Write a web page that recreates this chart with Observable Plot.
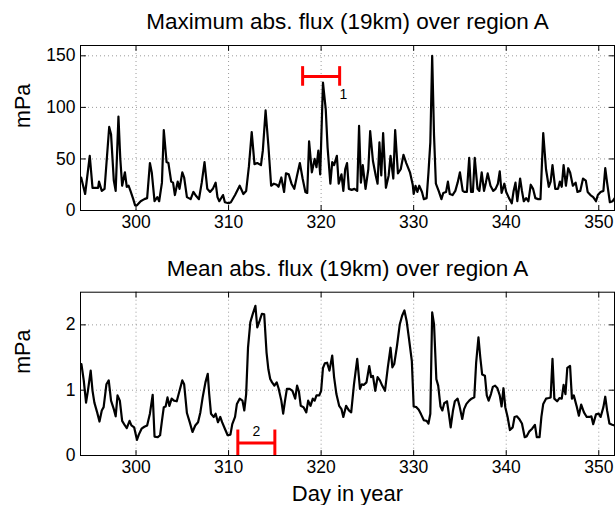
<!DOCTYPE html>
<html><head><meta charset="utf-8">
<script src="https://cdn.jsdelivr.net/npm/d3@7"></script>
<script src="https://cdn.jsdelivr.net/npm/@observablehq/plot@0.6"></script>
<style>
body{margin:0;background:#fff;}
#chart{position:relative;width:615px;height:505px;overflow:hidden;background:#fff;}
#chart svg{display:block;}
</style></head><body><div id="chart"></div>
<script>
// ---- data ----
const xTicks = [300, 310, 320, 330, 340, 350];
const maxTicks = [0, 50, 100, 150];
const meanTicks = [0, 1, 2];
const titleTop = "Maximum abs. flux (19km) over region A";
const titleBottom = "Mean abs. flux (19km) over region A";
const yLabel = "mPa";
const xLabel = "Day in year";

const maxDay = [294.07,294.5,295.0,295.3,295.6,295.9,296.0,296.3,296.6,297.1,297.3,297.6,297.8,298.1,298.3,298.5,298.8,299.0,299.2,299.4,299.7,299.9,300.1,300.5,300.9,301.2,301.5,301.7,302.0,302.3,302.5,302.8,303.0,303.3,303.5,303.8,304.0,304.2,304.5,304.7,305.0,305.2,305.5,305.9,306.2,306.5,306.8,307.1,307.4,307.7,308.0,308.3,308.6,308.8,309.0,309.4,309.6,310.0,310.25,310.7,311.2,311.6,311.9,312.2,312.5,312.8,313.1,313.5,313.7,314.0,314.3,314.6,314.9,315.2,315.4,315.7,316.0,316.2,316.5,316.8,317.1,317.4,317.7,318.0,318.3,318.5,318.7,319.0,319.3,319.5,319.7,319.9,320.2,320.5,320.7,321.0,321.2,321.4,321.7,321.9,322.2,322.4,322.6,322.8,323.0,323.3,323.6,323.9,324.1,324.3,324.5,324.8,325.1,325.3,325.6,325.9,326.1,326.3,326.5,326.7,327.0,327.3,327.5,327.8,328.0,328.3,328.6,328.9,329.2,329.6,329.9,330.0,330.2,330.4,330.6,330.9,331.1,331.4,331.6,331.8,332.0,332.2,332.4,332.7,333.0,333.2,333.5,333.7,333.9,334.2,334.5,334.75,335.0,335.3,335.5,335.75,336.0,336.2,336.4,336.6,336.9,337.1,337.35,337.6,337.8,338.0,338.3,338.6,338.85,339.1,339.3,339.5,339.8,340.0,340.3,340.6,340.8,341.0,341.2,341.5,341.7,341.9,342.15,342.4,342.65,342.9,343.15,343.45,343.7,344.0,344.3,344.6,344.8,345.0,345.3,345.6,345.8,346.0,346.2,346.45,346.7,346.9,347.2,347.5,347.7,348.0,348.3,348.6,348.8,349.1,349.4,349.7,349.9,350.2,350.5,350.7,350.9,351.2,351.5,351.8];
const maxVal = [32,16,53,22,22,22,28,19,21,81,74,29,19,91,50,24,37,23,24,19,11,5,5,9,11,12,46,37,9,13,9,27,78,47,46,28,27,15,28,21,37,32,13,11,18,14,11,27,47,21,18,21,27,13,9,15,8,7,8,15,24,16,19,43,76,45,46,44,58,97,63,24,26,25,23,32,18,36,35,26,21,34,46,31,18,17,67,37,50,42,58,35,124,98,61,26,47,44,53,26,35,19,40,46,21,20,21,19,82,27,44,21,40,77,48,34,26,66,34,75,22,34,53,31,78,36,40,54,46,37,25,16,24,18,24,18,11,12,37,66,150,73,26,19,11,17,18,28,16,15,19,27,37,19,18,18,51,18,18,51,21,19,37,19,27,36,24,19,21,26,38,17,26,18,12,7,19,27,9,31,19,9,12,9,25,21,12,11,11,75,40,23,28,44,21,21,28,23,44,24,41,37,24,27,18,19,31,29,18,15,13,9,15,18,19,41,27,8,9,13];

const meanDay = [294.1,294.35,294.6,294.8,295.1,295.3,295.5,295.8,296.05,296.3,296.5,296.8,297.05,297.3,297.6,297.8,298.0,298.25,298.5,298.8,299.0,299.3,299.5,299.8,300.1,300.3,300.6,300.9,301.2,301.5,301.8,302.0,302.35,302.6,302.8,303.0,303.2,303.4,303.6,303.85,304.1,304.4,304.7,305.0,305.2,305.5,305.8,306.1,306.4,306.7,306.95,307.2,307.5,307.75,307.9,308.1,308.4,308.6,308.85,309.1,309.3,309.6,309.9,310.2,310.4,310.7,310.9,311.2,311.5,311.7,311.9,312.1,312.35,312.6,312.9,313.1,313.35,313.6,313.85,314.1,314.3,314.5,314.7,314.95,315.2,315.4,315.7,315.9,316.1,316.3,316.6,316.9,317.2,317.4,317.6,317.8,318.1,318.4,318.6,318.85,319.1,319.3,319.5,319.8,320.0,320.2,320.4,320.65,320.9,321.2,321.4,321.65,321.95,322.2,322.4,322.7,323.0,323.25,323.55,323.9,324.2,324.4,324.6,324.9,325.2,325.4,325.6,325.85,326.1,326.35,326.6,326.9,327.2,327.5,327.7,327.9,328.2,328.5,328.75,329.0,329.25,329.5,329.8,330.0,330.3,330.55,330.8,331.1,331.4,331.6,331.8,332.0,332.2,332.45,332.65,332.9,333.1,333.3,333.6,333.8,334.0,334.25,334.45,334.75,334.95,335.25,335.45,335.7,336.0,336.25,336.55,336.75,337.0,337.2,337.4,337.7,337.9,338.1,338.35,338.55,338.8,339.05,339.3,339.5,339.7,339.9,340.15,340.4,340.7,340.9,341.15,341.4,341.7,342.0,342.2,342.5,342.8,343.1,343.3,343.6,343.8,344.0,344.3,344.6,344.8,345.0,345.2,345.5,345.75,346.0,346.2,346.4,346.6,346.9,347.1,347.3,347.6,347.85,348.1,348.4,348.7,349.0,349.2,349.4,349.7,350.0,350.2,350.5,350.7,350.9,351.15,351.45,351.7];
const meanVal = [1.40,1.15,0.81,0.99,1.30,0.99,0.81,0.66,0.52,0.69,0.74,1.09,1.15,0.84,0.71,0.60,0.92,0.84,0.53,0.46,0.42,0.53,0.46,0.43,0.24,0.32,0.41,0.44,0.46,0.64,0.93,0.29,0.28,0.31,0.53,0.74,0.75,0.89,0.76,0.87,0.84,0.83,0.99,1.15,1.09,0.65,0.51,0.36,0.46,0.51,0.66,0.89,1.12,1.25,0.95,0.64,0.59,0.64,0.51,0.59,0.51,0.41,0.31,0.32,0.48,0.59,0.79,0.87,0.84,0.69,0.94,1.65,2.04,2.16,2.29,1.96,2.06,2.17,2.16,1.58,1.32,1.17,1.12,1.07,1.12,1.03,0.84,0.64,0.84,1.02,1.02,0.99,0.87,1.07,0.98,0.76,0.74,0.66,0.84,0.76,0.87,0.84,0.92,0.92,0.99,1.34,1.41,1.42,1.30,1.53,1.20,0.94,0.76,0.71,0.59,0.76,0.69,0.66,1.09,1.48,1.02,1.09,1.08,1.12,1.37,1.20,1.22,0.99,1.20,1.15,1.07,0.99,1.34,1.65,1.35,1.40,1.68,2.01,2.14,2.22,2.05,1.78,1.45,0.75,0.74,0.70,0.63,0.54,0.53,0.49,0.64,2.19,2.01,1.17,1.07,0.75,0.69,0.80,0.83,0.64,0.43,0.69,0.83,0.87,0.76,0.56,0.71,0.79,0.84,0.87,0.89,1.42,1.81,1.50,1.24,1.22,0.92,0.84,0.94,1.05,1.07,1.03,0.92,0.75,1.03,0.74,0.59,0.39,0.43,0.59,0.60,0.56,0.49,0.28,0.29,0.37,0.41,0.47,0.28,0.28,0.59,0.79,0.87,0.88,0.89,1.48,0.87,0.83,0.88,0.87,1.08,0.94,1.34,1.37,0.87,0.92,0.76,0.61,0.78,0.66,0.59,0.59,0.60,0.48,0.63,0.64,0.59,0.74,0.90,0.69,0.49,0.47,0.46];

// interval markers: start day, end day, level, cap low, cap high, label, label position
const markerTop = {start: 318, end: 322, level: 130, capLo: 120.5, capHi: 139.5, label: "1", lx: 322.4, ly: 112};
const markerBottom = {start: 311, end: 315, level: 0.19, capLo: 0, capHi: 0.39, label: "2", lx: 313, ly: 0.36};

const xDomain = [294, 351.7];
const FONT = "'Liberation Sans', Arial, Helvetica, sans-serif";
const tickShape = {draw(context, l) { context.moveTo(0, 0); context.lineTo(0, -l); }};

function panel({days, vals, yDomain, yTicks, title, marker, height, marginTop, marginBottom, titleDy, withXLabel}) {
  const data = days.map((d, i) => ({d, v: vals[i]}));
  const caps = [{x: marker.start, y1: marker.capLo, y2: marker.capHi}, {x: marker.end, y1: marker.capLo, y2: marker.capHi}];
  const gridStyle = {stroke: "#9a9a9a", strokeOpacity: 1, strokeDasharray: "1,3"};
  const tickStyle = {length: 5, anchor: "start", shape: tickShape, stroke: "#000", strokeWidth: 1};
  const marks = [
    Plot.gridX(xTicks, gridStyle),
    Plot.gridY(yTicks, gridStyle),
    Plot.line(data, {x: "d", y: "v", stroke: "#000", strokeWidth: 2.2}),
    Plot.vector(xTicks, {x: d => d, frameAnchor: "bottom", rotate: 0, ...tickStyle}),
    Plot.vector(xTicks, {x: d => d, frameAnchor: "top", rotate: 180, ...tickStyle}),
    Plot.vector(yTicks, {y: d => d, frameAnchor: "left", rotate: 90, ...tickStyle}),
    Plot.vector(yTicks, {y: d => d, frameAnchor: "right", rotate: -90, ...tickStyle}),
    Plot.axisX(xTicks, {anchor: "bottom", tickSize: 0, tickPadding: 5, label: null, fontSize: 17.5, tickFormat: d => String(d)}),
    Plot.axisY(yTicks, {anchor: "left", tickSize: 0, tickPadding: 5, label: null, fontSize: 17.5, tickFormat: d => String(d)}),
    Plot.frame({stroke: "#000", strokeWidth: 1}),
    Plot.ruleY([marker], {y: "level", x1: "start", x2: "end", stroke: "#ff0000", strokeWidth: 3}),
    Plot.ruleX(caps, {x: "x", y1: "y1", y2: "y2", stroke: "#ff0000", strokeWidth: 3}),
    Plot.text([marker], {x: "lx", y: "ly", text: "label", fontSize: 14, fill: "#000"}),
    Plot.text([title], {frameAnchor: "top", dy: titleDy, lineAnchor: "middle", fontSize: 22.5, fill: "#000"}),
    Plot.text([yLabel], {frameAnchor: "left", dx: -57, rotate: -90, lineAnchor: "middle", fontSize: 21.5, fill: "#000"})
  ];
  if (withXLabel) marks.push(Plot.text([xLabel], {frameAnchor: "bottom", dy: 38, lineAnchor: "middle", fontSize: 22, fill: "#000"}));
  return Plot.plot({
    width: 615, height, marginLeft: 80, marginRight: 1, marginTop, marginBottom,
    style: {fontFamily: FONT, fontSize: "17.5px", color: "#000", background: "#fff", overflow: "visible"},
    x: {domain: xDomain},
    y: {domain: yDomain},
    marks
  });
}

const chart = document.getElementById("chart");
chart.appendChild(panel({days: maxDay, vals: maxVal, yDomain: [0, 160], yTicks: maxTicks, title: titleTop, marker: markerTop,
  height: 245, marginTop: 45, marginBottom: 35, titleDy: -24, withXLabel: false}));
chart.appendChild(panel({days: meanDay, vals: meanVal, yDomain: [0, 2.5], yTicks: meanTicks, title: titleBottom, marker: markerBottom,
  height: 260, marginTop: 46.7, marginBottom: 50, titleDy: -23.7, withXLabel: true}));
</script></body></html>
